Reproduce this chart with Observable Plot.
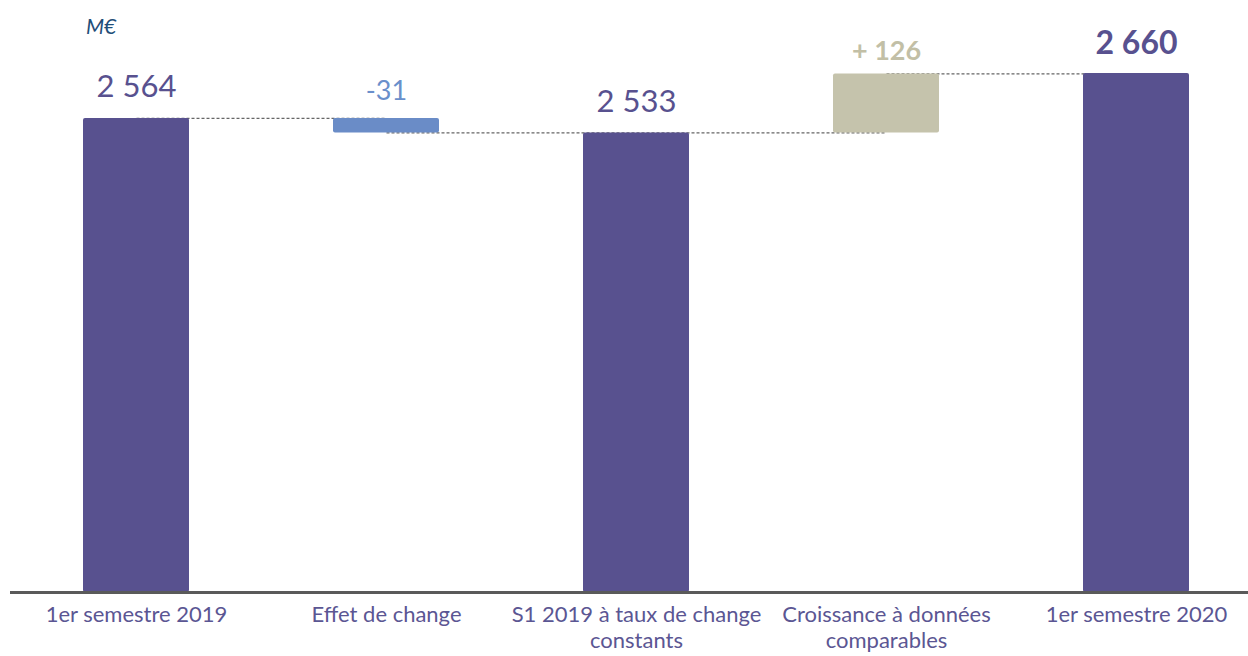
<!DOCTYPE html>
<html><head><meta charset="utf-8">
<script src="https://cdn.jsdelivr.net/npm/d3@7"></script>
<script src="https://cdn.jsdelivr.net/npm/@observablehq/plot@0.6"></script>
<style>
body{margin:0;background:#fff;}
#wrap{position:relative;width:1248px;height:656px;}
#unit{position:absolute;left:86px;top:13px;font:italic 21px Lato, sans-serif;color:#1F4E79;}
</style></head><body>
<div id="wrap"><div id="unit"></div></div>
<script>
// ---- data ----
const categories = ["1er semestre 2019", "Effet de change", "S1 2019 à taux de change\nconstants", "Croissance à données\ncomparables", "1er semestre 2020"];
const values = [2564, -31, 2533, 126, 2660];
const kinds = ["total", "delta", "total", "delta", "total"];
const unitLabel = "M€";

// ---- scale settings ----
const yMin = 1551, yMax = 2660;
const fr = d3.formatLocale({decimal: ",", thousands: "\u00a0", grouping: [3], currency: ["", " €"]});
const fmt = fr.format(",d");

const colTotal = "#58518F", colNeg = "#6A8CC7", colPos = "#C5C3AC";
const lblNeg = "#6A8FCB", lblPos = "#C2BFA6";

let run = 0;
const rows = categories.map((c, i) => {
  const v = values[i], k = kinds[i];
  let lo, hi;
  if (k === "total") { lo = yMin; hi = v; run = v; }
  else { lo = Math.min(run, run + v); hi = Math.max(run, run + v); run = run + v; }
  const label = k === "total" ? fmt(v) : (v < 0 ? "-" + fmt(-v) : "+ " + fmt(v));
  const fill = k === "total" ? colTotal : (v < 0 ? colNeg : colPos);
  const lfill = k === "total" ? colTotal : (v < 0 ? lblNeg : lblPos);
  return {i, cat: c, kind: k, v, lo, hi, end: run, label, fill, lfill};
});
const links = rows.slice(0, -1).map((r, i) => ({a: r.cat, b: rows[i + 1].cat, level: r.end}));
const n = rows.length;

document.getElementById("unit").textContent = unitLabel;

const font = "Lato, sans-serif";
const lbl = (filter, size, weight, dy) => Plot.text(rows.filter(filter), {
  x: "cat", y: "hi", text: "label", fill: "lfill", fontSize: size, fontWeight: weight,
  fontFamily: font, lineAnchor: "bottom", dy
});

const chart = Plot.plot({
  width: 1248, height: 656,
  marginTop: 73, marginBottom: 64, marginLeft: 10, marginRight: 0,
  style: {fontFamily: font, background: "white"},
  x: {domain: categories, range: [11, 1261], paddingInner: 0.576, paddingOuter: 0.288, axis: null},
  y: {domain: [yMin, yMax], axis: null},
  color: {type: "identity"},
  marks: [
    Plot.link(links, {x1: "a", x2: "b", y1: "level", y2: "level", stroke: "#666", strokeWidth: 1.2, strokeDasharray: "3,2"}),
    Plot.rectY(rows, {x: "cat", y1: "lo", y2: "hi", fill: "fill", rx: 2}),
    Plot.ruleY([yMin], {stroke: "#5a5a5a", strokeWidth: 3}),
    lbl(r => r.kind === "total" && r.i < n - 1, 31, "normal", -21),
    lbl(r => r.kind === "total" && r.i === n - 1, 32, "bold", -20),
    lbl(r => r.kind === "delta" && r.v < 0, 27, "normal", -18),
    lbl(r => r.kind === "delta" && r.v > 0, 27, "bold", -14),
    Plot.text(rows, {x: "cat", frameAnchor: "bottom", text: "cat", fill: "#5B5693", fontSize: 22, fontFamily: font,
      lineAnchor: "top", lineHeight: 1.18, dy: 11})
  ]
});
document.getElementById("wrap").appendChild(chart);
</script>
</body></html>
